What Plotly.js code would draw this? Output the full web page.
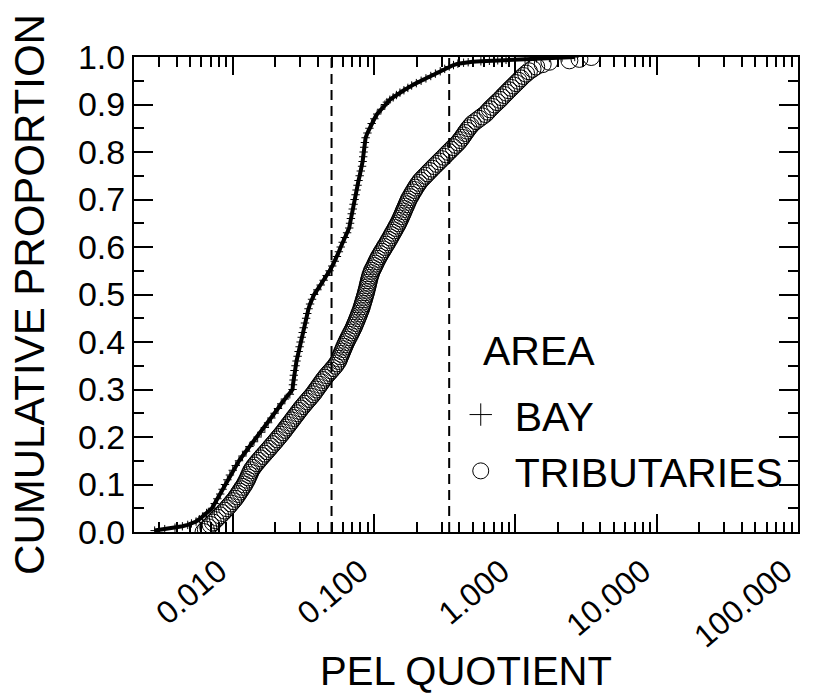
<!DOCTYPE html>
<html>
<head>
<meta charset="utf-8">
<script src="https://cdn.plot.ly/plotly-3.0.1.min.js"></script>
<style>html,body{margin:0;padding:0;background:#fff;}#chart{width:815px;height:693px;}</style>
</head>
<body>
<div id="chart"></div>
<script>
// ---- data ----
const seriesNames = ["BAY", "TRIBUTARIES"];
const legendTitle = "AREA";

const bayX = [0.0028,0.0033,0.0039,0.0044,0.0048,0.0051,0.0055,0.0058,0.0061,0.00652,
0.00713,0.00745,0.00778,0.00815,0.00847,0.00881,0.00916,0.00955,0.0100,0.0105,
0.01107,0.01172,0.01242,0.01312,0.01413,0.0150,0.0159,0.01687,0.01778,0.01875,
0.01977,0.02089,0.02203,0.02339,0.02535,0.02649,0.02667,0.02692,0.02704,0.02735,
0.0278,0.02825,0.02877,0.02924,0.02972,0.0302,0.03076,0.03126,0.03177,0.03243,
0.03304,0.03365,0.03436,0.03524,0.03639,0.03767,0.03972,0.04188,0.04395,0.04613,
0.04842,0.05058,0.05272,0.05458,0.05636,0.05808,0.05998,0.06209,0.06442,0.06668,
0.06761,0.06855,0.0695,0.07063,0.07161,0.07278,0.07396,0.07516,0.07638,0.07762,
0.07907,0.08054,0.08222,0.08299,0.08375,0.08433,0.08511,0.0861,0.0871,0.08974,
0.09268,0.09616,0.1005,0.1052,0.1122,0.1194,0.1233,0.1294,0.1365,0.1439,
0.1524,0.1626,0.1734,0.1845,0.1991,0.2153,0.2328,0.2518,0.2716,0.2938,
0.3162,0.3404,0.3648,0.3917,0.43,0.4634,0.4977,0.570,0.6546,0.750,
0.859,1.0,1.17,1.41,1.74,2.14,2.63];
const bayP = [0.003,0.006,0.009,0.012,0.015,0.018,0.022,0.027,0.032,0.04,
0.05,0.06,0.07,0.08,0.09,0.10,0.11,0.12,0.13,0.14,
0.15,0.16,0.17,0.18,0.19,0.20,0.21,0.22,0.23,0.24,
0.25,0.26,0.27,0.28,0.29,0.30,0.31,0.32,0.33,0.34,
0.35,0.36,0.37,0.38,0.39,0.40,0.41,0.42,0.43,0.44,
0.45,0.46,0.47,0.48,0.49,0.50,0.51,0.52,0.53,0.54,
0.55,0.56,0.57,0.58,0.59,0.60,0.61,0.62,0.63,0.64,
0.65,0.66,0.67,0.68,0.69,0.70,0.71,0.72,0.73,0.74,
0.75,0.76,0.77,0.78,0.79,0.80,0.81,0.82,0.83,0.84,
0.85,0.86,0.87,0.88,0.89,0.90,0.905,0.91,0.915,0.92,
0.925,0.93,0.935,0.94,0.945,0.95,0.955,0.96,0.965,0.97,
0.975,0.98,0.983,0.986,0.988,0.989,0.990,0.991,0.992,0.993,
0.994,0.995,0.996,0.997,0.998,0.999,1.000];

const tribX = [0.00621,0.00645,0.00670,0.00697,0.00724,0.00753,0.00783,0.00815,0.00847,0.00878,
0.00910,0.00941,0.00972,0.01005,0.01038,0.01066,0.01094,0.01122,0.01151,0.01181,
0.01211,0.01236,0.01262,0.01284,0.01306,0.01329,0.01352,0.01389,0.01426,0.01473,
0.01521,0.01573,0.01626,0.01684,0.01742,0.01802,0.01862,0.01926,0.01991,0.02057,
0.02123,0.02194,0.02265,0.02332,0.02399,0.02473,0.02547,0.02622,0.02698,0.02781,
0.02864,0.02949,0.03034,0.03135,0.03236,0.03346,0.03459,0.03577,0.03698,0.03803,
0.03908,0.04019,0.04130,0.04247,0.04365,0.04498,0.04634,0.04797,0.04966,0.05135,
0.05309,0.05446,0.05585,0.05676,0.05768,0.05862,0.05957,0.06054,0.06152,0.06259,
0.06368,0.06494,0.06622,0.06754,0.06887,0.07023,0.07161,0.07278,0.07396,0.07516,
0.07638,0.07753,0.07870,0.07989,0.08110,0.08204,0.08299,0.08395,0.08492,0.08590,
0.08690,0.08780,0.08872,0.08953,0.09036,0.09119,0.09204,0.09300,0.09397,0.09528,
0.09661,0.09853,0.1005,0.1023,0.1042,0.1063,0.1084,0.1109,0.1135,0.1162,
0.1189,0.1218,0.1247,0.1275,0.1303,0.1332,0.1361,0.1391,0.1422,0.1452,
0.1483,0.1510,0.1538,0.1565,0.1592,0.1618,0.1644,0.1673,0.1702,0.1730,
0.1758,0.1797,0.1837,0.1880,0.1923,0.1970,0.2018,0.2075,0.2133,0.2215,
0.2301,0.2387,0.2477,0.2573,0.2673,0.2780,0.2891,0.3006,0.3126,0.3247,
0.3373,0.3508,0.3648,0.3794,0.3945,0.4065,0.4188,0.4300,0.4416,0.4540,
0.4667,0.4825,0.4989,0.5254,0.5534,0.5828,0.6138,0.6361,0.6592,0.6855,
0.7129,0.7431,0.7745,0.8036,0.8337,0.8660,0.8995,0.9354,0.9727,1.012,
1.052,1.094,1.138,1.191,1.247,1.323,1.403,
1.56,1.74,2.41,2.84,3.44];
const tribP = [0.000,0.005,0.010,0.015,0.020,0.025,0.030,0.035,0.040,0.045,
0.050,0.055,0.060,0.065,0.070,0.075,0.080,0.085,0.090,0.095,
0.100,0.105,0.110,0.115,0.120,0.125,0.130,0.135,0.140,0.145,
0.150,0.155,0.160,0.165,0.170,0.175,0.180,0.185,0.190,0.195,
0.200,0.205,0.210,0.215,0.220,0.225,0.230,0.235,0.240,0.245,
0.250,0.255,0.260,0.265,0.270,0.275,0.280,0.285,0.290,0.295,
0.300,0.305,0.310,0.315,0.320,0.325,0.330,0.335,0.340,0.345,
0.350,0.355,0.360,0.365,0.370,0.375,0.380,0.385,0.390,0.395,
0.400,0.405,0.410,0.415,0.420,0.425,0.430,0.435,0.440,0.445,
0.450,0.455,0.460,0.465,0.470,0.475,0.480,0.485,0.490,0.495,
0.500,0.505,0.510,0.515,0.520,0.525,0.530,0.535,0.540,0.545,
0.550,0.555,0.560,0.565,0.570,0.575,0.580,0.585,0.590,0.595,
0.600,0.605,0.610,0.615,0.620,0.625,0.630,0.635,0.640,0.645,
0.650,0.655,0.660,0.665,0.670,0.675,0.680,0.685,0.690,0.695,
0.700,0.705,0.710,0.715,0.720,0.725,0.730,0.735,0.740,0.745,
0.750,0.755,0.760,0.765,0.770,0.775,0.780,0.785,0.790,0.795,
0.800,0.805,0.810,0.815,0.820,0.825,0.830,0.835,0.840,0.845,
0.850,0.855,0.860,0.865,0.870,0.875,0.880,0.885,0.890,0.895,
0.900,0.905,0.910,0.915,0.920,0.925,0.930,0.935,0.940,0.945,
0.950,0.955,0.960,0.965,0.970,0.975,0.980,
0.985,0.990,0.993,0.996,1.000];

const refLines = [0.05, 0.34];           // dashed vertical reference quotients
const xTickVals = [0.01, 0.1, 1, 10, 100];
const xTickText = ["0.010", "0.100", "1.000", "10.000", "100.000"];
const xRange = [0.002, 100];

// minor ticks at 2..9 of each decade
const xMinor = [];
[0.001, 0.01, 0.1, 1, 10].forEach(d => { for (let k = 2; k <= 9; k++) xMinor.push(+(d * k).toPrecision(3)); });

const FONT = "Liberation Sans, Arial, Helvetica, sans-serif";

const traces = [
  {x: bayX, y: bayP, type: "scatter", mode: "lines", showlegend: false,
   line: {color: "black", width: 4}, hoverinfo: "skip"},
  {x: bayX, y: bayP, type: "scatter", mode: "markers", showlegend: false,
   marker: {symbol: "cross-thin-open", size: 6, color: "black", line: {color: "black", width: 1}}},
  {x: tribX, y: tribP, type: "scatter", mode: "markers", showlegend: false,
   marker: {symbol: "circle-open", size: 17, color: "black", line: {color: "black", width: 1}}},
  // legend entries (no data of their own)
  {x: [null], y: [null], type: "scatter", mode: "markers", name: seriesNames[0],
   marker: {symbol: "cross-thin-open", size: 16, color: "black", line: {color: "black", width: 1}}},
  {x: [null], y: [null], type: "scatter", mode: "markers", name: seriesNames[1],
   marker: {symbol: "circle-open", size: 16, color: "black", line: {color: "black", width: 1}}}
];

const shapes = refLines.map(v => ({
  type: "line", xref: "x", yref: "paper", x0: v, x1: v, y0: 0, y1: 1,
  line: {color: "black", width: 2, dash: "10px,6px"}
}));

const layout = {
  width: 815, height: 693,
  margin: {l: 134, r: 17, t: 57, b: 161},
  paper_bgcolor: "white", plot_bgcolor: "white",
  font: {family: FONT, color: "black"},
  showlegend: true,
  legend: {
    x: 0.471, y: 0.317, xanchor: "left", yanchor: "top",
    bgcolor: "rgba(0,0,0,0)", borderwidth: 0,
    font: {family: FONT, size: 41, color: "black"},
    itemwidth: 58
  },
  annotations: [{
    text: legendTitle, xref: "paper", yref: "paper",
    x: 0.5226, y: 0.381, xanchor: "left", yanchor: "middle", showarrow: false,
    font: {family: FONT, size: 41, color: "black"}
  }],
  xaxis: {
    type: "log", range: xRange.map(Math.log10),
    tickmode: "array", tickvals: xTickVals, ticktext: xTickText,
    ticks: "inside", ticklen: 18, tickwidth: 2, tickcolor: "black",
    tickangle: -40, tickfont: {family: FONT, size: 32, color: "black"},
    ticklabelshift: -14, ticklabelstandoff: 6,
    minor: {tickmode: "array", tickvals: xMinor, ticks: "inside", ticklen: 10, tickwidth: 2, tickcolor: "black", showgrid: false},
    showline: true, linecolor: "black", linewidth: 2, mirror: "allticks",
    showgrid: false, zeroline: false,
    title: {text: "PEL QUOTIENT", font: {family: FONT, size: 40, color: "black"}, standoff: 22}
  },
  yaxis: {
    range: [0, 1], tickmode: "linear", tick0: 0, dtick: 0.1, tickformat: ".1f",
    ticks: "inside", ticklen: 19, tickwidth: 2, tickcolor: "black",
    tickfont: {family: FONT, size: 34, color: "black"},
    minor: {tickmode: "linear", tick0: 0.05, dtick: 0.1, ticks: "inside", ticklen: 10, tickwidth: 2, tickcolor: "black", showgrid: false},
    showline: true, linecolor: "black", linewidth: 2, mirror: "allticks",
    showgrid: false, zeroline: false,
    title: {text: "CUMULATIVE PROPORTION", font: {family: FONT, size: 42, color: "black"}, standoff: 20}
  },
  shapes: shapes
};

Plotly.newPlot("chart", traces, layout, {displayModeBar: false, staticPlot: true});
</script>
</body>
</html>
